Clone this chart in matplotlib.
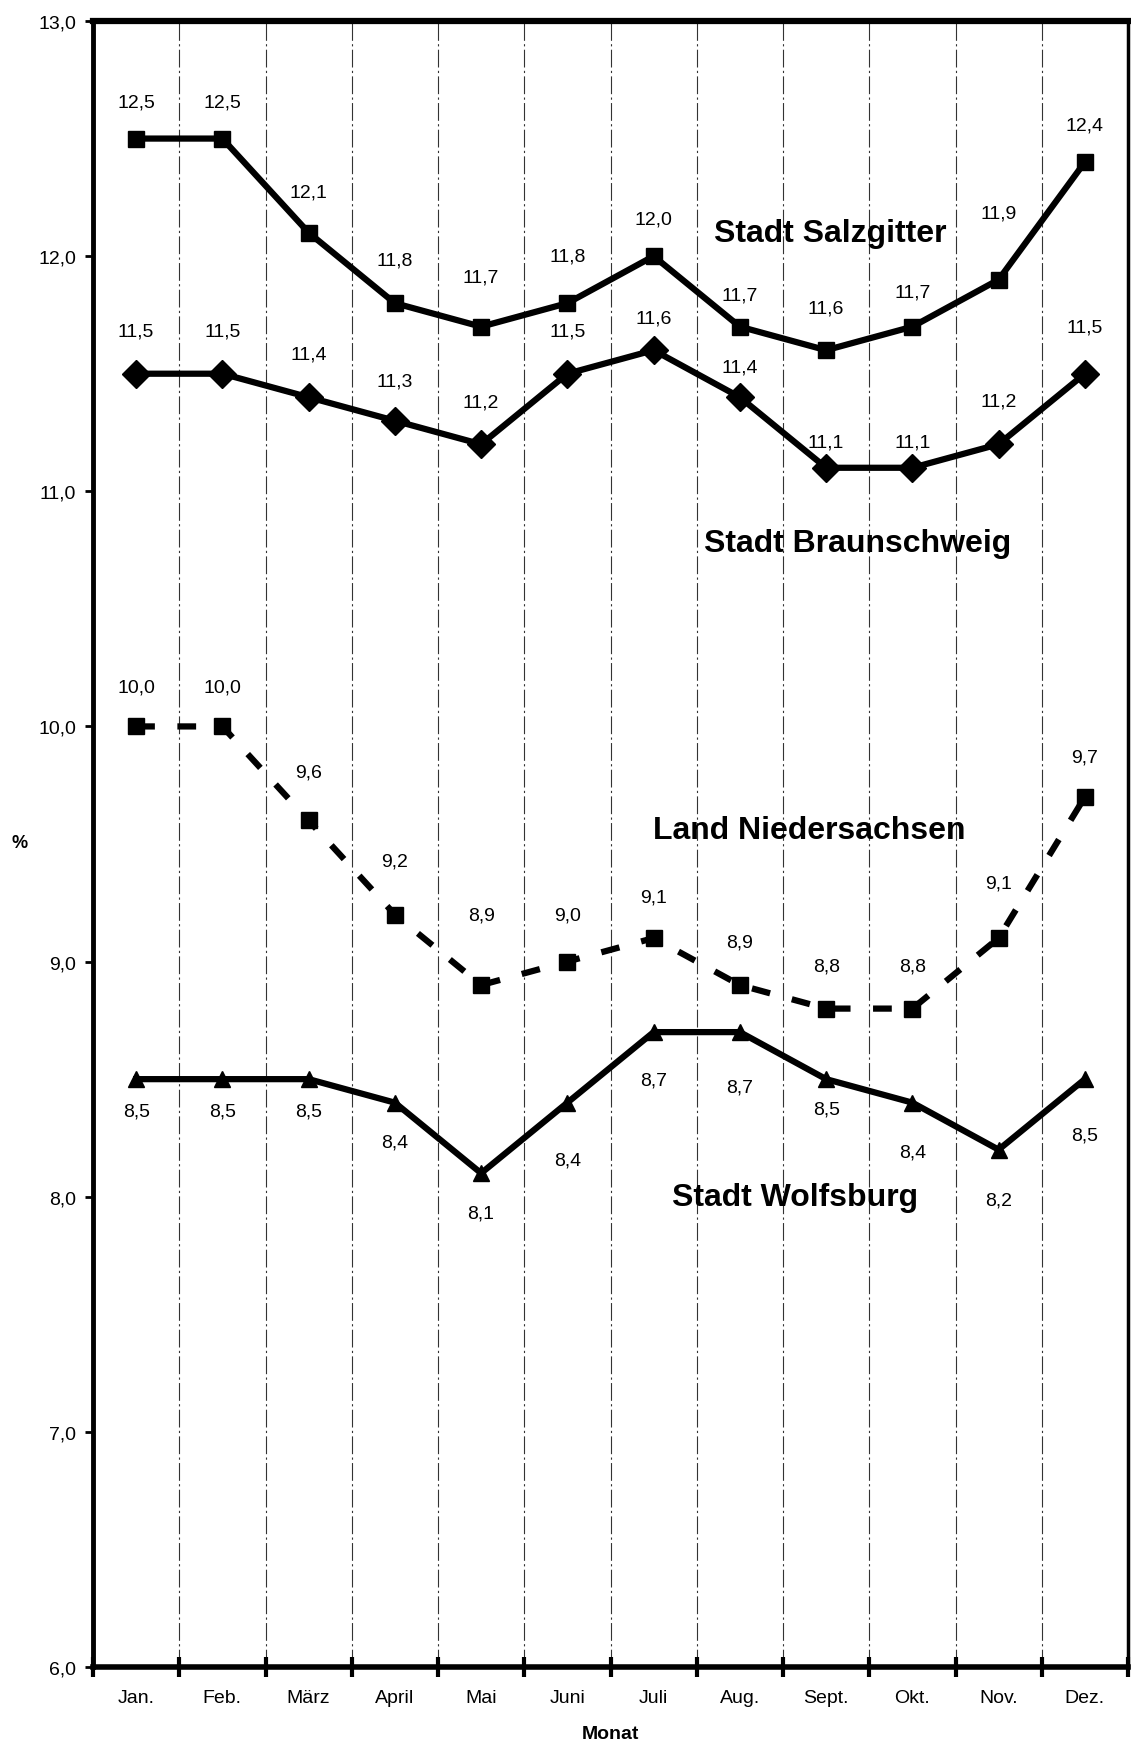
import matplotlib.pyplot as plt

plt.rcParams['font.family'] = ['Liberation Sans', 'DejaVu Sans']

# Monatliche Arbeitslosenquoten (%)
monate = ['Jan.', 'Feb.', 'März', 'April', 'Mai', 'Juni', 'Juli', 'Aug.',
          'Sept.', 'Okt.', 'Nov.', 'Dez.']
salzgitter = [12.5, 12.5, 12.1, 11.8, 11.7, 11.8, 12.0, 11.7, 11.6, 11.7, 11.9, 12.4]
braunschweig = [11.5, 11.5, 11.4, 11.3, 11.2, 11.5, 11.6, 11.4, 11.1, 11.1, 11.2, 11.5]
niedersachsen = [10.0, 10.0, 9.6, 9.2, 8.9, 9.0, 9.1, 8.9, 8.8, 8.8, 9.1, 9.7]
wolfsburg = [8.5, 8.5, 8.5, 8.4, 8.1, 8.4, 8.7, 8.7, 8.5, 8.4, 8.2, 8.5]

# vertikaler Abstand der Wertbeschriftungen (Pixel)
sz_dy = [37, 37, 41, 43, 50, 47, 37, 32, 42, 35, 67, 37]
bs_dy = [43, 43, 43, 40, 42, 43, 32, 30, 26, 26, 43, 47]
nds_dy = [39, 39, 48, 54, 70, 47, 41, 43, 43, 43, 55, 40]
wob_dy = [-32, -32, -32, -39, -40, -57, -48, -55, -30, -49, -50, -56]

x = list(range(len(monate)))

fig = plt.figure(figsize=(11.31, 17.49), dpi=100)
ax = fig.add_axes([93 / 1131, 1 - 1668 / 1749, 1035 / 1131, 1646 / 1749])

lw = 4.5
ax.plot(x, salzgitter, color='black', lw=lw, marker='s', ms=11, zorder=3)
ax.plot(x, braunschweig, color='black', lw=lw, marker='D', ms=14, zorder=3)
ax.plot(x, niedersachsen, color='black', lw=lw, marker='s', ms=12,
        dashes=(3, 3.6), zorder=3)
ax.plot(x, wolfsburg, color='black', lw=lw, marker='^', ms=12, zorder=3)


def beschriften(werte, dys):
    for xi, v, dy in zip(x, werte, dys):
        ax.annotate(f'{v:.1f}'.replace('.', ','), (xi, v), xytext=(0, dy),
                    textcoords='offset pixels', ha='center', va='center',
                    fontsize=14)


beschriften(salzgitter, sz_dy)
beschriften(braunschweig, bs_dy)
beschriften(niedersachsen, nds_dy)
beschriften(wolfsburg, wob_dy)

# Reihennamen
namen_kw = dict(ha='center', va='center', fontsize=23, fontweight='bold')
ax.text(8.05, 12.10, 'Stadt Salzgitter', **namen_kw)
ax.text(8.36, 10.78, 'Stadt Braunschweig', **namen_kw)
ax.text(7.80, 9.56, 'Land Niedersachsen', **namen_kw)
ax.text(7.64, 8.00, 'Stadt Wolfsburg', **namen_kw)

# Achsen
ax.set_xlim(-0.5, 11.5)
ax.set_ylim(6, 13)
ax.set_yticks(range(6, 14))
ax.set_yticklabels([f'{v},0' for v in range(6, 14)], fontsize=14)
ax.tick_params(axis='y', direction='out', length=6, width=2, pad=6)

grenzen = [i - 0.5 for i in range(len(monate) + 1)]
ax.set_xticks(grenzen)
ax.set_xticklabels([])
ax.tick_params(axis='x', which='major', direction='inout', length=14, width=3)
ax.set_xticks(x, minor=True)
ax.set_xticklabels(monate, minor=True, fontsize=14)
ax.tick_params(axis='x', which='minor', length=0, pad=16)

ax.grid(axis='x', which='major', color='#333333', lw=0.8,
        ls=(0, (16, 3, 2, 3)))
ax.set_axisbelow(True)

ax.spines['top'].set_linewidth(4.5)
ax.spines['left'].set_linewidth(3.5)
ax.spines['bottom'].set_linewidth(4)
ax.spines['right'].set_linewidth(2.5)

fig.text(20 / 1131, 1 - 844 / 1749, '%', ha='center', va='center',
         fontsize=13, fontweight='bold')
fig.text(610 / 1131, 1 - 1735 / 1749, 'Monat', ha='center', va='center',
         fontsize=14, fontweight='bold')

fig.savefig('out.png', dpi=100)
